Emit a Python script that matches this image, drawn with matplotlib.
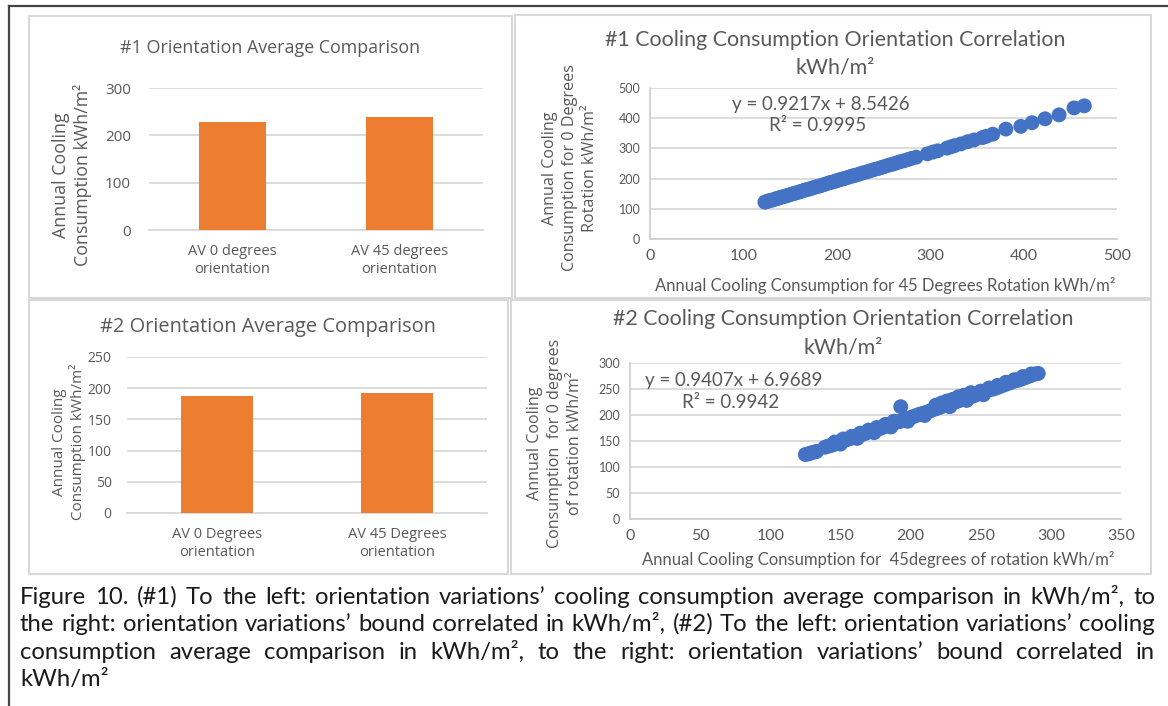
import matplotlib
matplotlib.use("Agg")
import matplotlib.pyplot as plt
from matplotlib.patches import Rectangle
from matplotlib.lines import Line2D
from matplotlib.transforms import IdentityTransform

# ---------------- data ----------------
bar1_categories = ["AV 0 degrees\norientation", "AV 45 degrees\norientation"]
bar1_values = [228, 239]
bar1_ticks = [0, 100, 200, 300]

bar2_categories = ["AV 0 Degrees\norientation", "AV 45 Degrees\norientation"]
bar2_values = [187.5, 192]
bar2_ticks = [0, 50, 100, 150, 200, 250]

sc1_x = [123, 125, 127, 129, 131, 134, 136, 138, 141, 143, 146, 148, 151, 153, 156,
         159, 161, 164, 167, 170, 172, 175, 178, 181, 184, 187, 190, 193, 196, 199,
         202, 205, 208, 211, 214, 217, 220, 224, 228, 232, 236, 240, 244, 248, 252,
         256, 260, 264, 268, 272, 276, 280, 285, 297, 303, 308, 318, 322, 326, 333,
         340, 347, 356, 360, 367, 381, 397, 409, 423, 438, 454, 465]
sc1_y = [122, 124, 126, 128, 129, 132, 134, 136, 139, 140, 143, 145, 148, 150, 152,
         155, 157, 160, 163, 165, 167, 170, 173, 175, 178, 181, 184, 187, 189, 192,
         195, 198, 200, 203, 206, 209, 211, 215, 219, 222, 226, 230, 233, 237, 241,
         245, 248, 252, 256, 259, 263, 267, 271, 282, 288, 292, 301, 305, 309, 315,
         322, 328, 336, 340, 347, 364, 373, 385, 398, 411, 434, 441]
sc1_ticks_x = [0, 100, 200, 300, 400, 500]
sc1_ticks_y = [0, 100, 200, 300, 400, 500]
sc1_eq = "y = 0.9217x + 8.5426"
sc1_r2 = "R² = 0.9995"

sc2_x = [125, 127, 128, 130, 132, 133,
         139, 141, 143, 145, 147, 149, 151, 153, 155, 157, 159, 161, 163, 165, 167,
         169, 171, 173, 175, 177, 179, 181, 183, 185, 187, 189, 191, 193, 195, 197,
         199, 201, 203, 205, 207, 209, 211, 213, 215, 217, 219, 221, 223, 225, 227,
         229, 231, 233, 235, 237, 239, 241, 243, 245, 247, 249, 251, 253, 255, 257,
         259, 261, 263, 265, 268, 271, 274, 277, 280, 283, 286, 289, 291,
         146, 152, 158, 164, 170, 176, 182, 188, 218, 222, 226, 230, 234, 238, 243,
         250, 256, 262, 268, 274, 280, 286,
         150, 162, 174, 186, 198, 210, 228, 240, 252, 193]
sc2_y = [124, 125, 126, 128, 129, 130,
         138, 140, 141, 143, 145, 147, 149, 151, 153, 155, 156, 158, 160, 162, 164,
         166, 168, 170, 172, 173, 175, 177, 179, 181, 183, 185, 187, 188, 190, 192,
         194, 196, 198, 200, 202, 203, 205, 207, 209, 211, 213, 215, 217, 219, 220,
         222, 224, 226, 228, 230, 232, 234, 235, 237, 239, 241, 243, 245, 247, 249,
         250, 252, 254, 256, 259, 262, 265, 267, 270, 273, 276, 279, 280,
         148, 154, 159, 165, 171, 176, 182, 188, 219, 223, 227, 230, 235, 238, 243,
         246, 252, 257, 263, 268, 274, 279,
         144, 155, 166, 177, 188, 199, 216, 228, 239, 216]
sc2_ticks_x = [0, 50, 100, 150, 200, 250, 300, 350]
sc2_ticks_y = [0, 50, 100, 150, 200, 250, 300]
sc2_eq = "y = 0.9407x + 6.9689"
sc2_r2 = "R² = 0.9942"

caption_lines = [
    "Figure 10. (#1) To the left: orientation variations’ cooling consumption average comparison in kWh/m², to",
    "the right: orientation variations’ bound correlated in kWh/m², (#2) To the left: orientation variations’ cooling",
    "consumption average comparison in kWh/m², to the right: orientation variations’ bound correlated in",
    "kWh/m²",
]

# ---------------- styles ----------------
W, H = 1168, 706
ORANGE = "#ED7D31"
BLUE = "#4472C4"
TXT = "#595959"
GRID = "#D9D9D9"
BAR_FONT = ["Open Sans", "DejaVu Sans"]
XL_FONT = ["Lato", "DejaVu Sans"]

fig = plt.figure(figsize=(W / 100, H / 100), dpi=100)
fig.patch.set_facecolor("white")


def fx(x):
    return x / W


def fy(y):
    return 1 - y / H


def add_ax(l, t, r, b):
    return fig.add_axes([fx(l), fy(b), (r - l) / W, (b - t) / H])


def ftext(x, y, s, **kw):
    kw.setdefault("ha", "center")
    kw.setdefault("va", "center")
    kw.setdefault("color", TXT)
    return fig.text(fx(x), fy(y), s, **kw)


# outer frame lines
fig.add_artist(Line2D([fx(9), fx(1168)], [fy(6), fy(6)], color="#444444", lw=1.6))
fig.add_artist(Line2D([fx(9), fx(9)], [fy(6), fy(706)], color="#444444", lw=1.6))

# panel boxes
for (l, t, r, b) in [(29, 16, 512, 298), (515, 15, 1151, 298),
                     (29, 300, 508, 574), (511, 300, 1151, 574)]:
    fig.add_artist(Rectangle((fx(l), fy(b)), (r - l) / W, (b - t) / H,
                             transform=fig.transFigure, fill=False,
                             edgecolor="#D9D9D9", lw=1.5))


def style_bar_ax(ax, ticks, fs_tick, fs_cat, pad_y, pad_x):
    ax.set_facecolor("none")
    for s in ["top", "right", "left"]:
        ax.spines[s].set_visible(False)
    ax.spines["bottom"].set_color(GRID)
    ax.spines["bottom"].set_linewidth(1.3)
    ax.set_yticks(ticks)
    ax.set_ylim(ticks[0], ticks[-1])
    ax.yaxis.grid(True, color=GRID, lw=1.3)
    ax.set_axisbelow(True)
    ax.tick_params(axis="both", length=0, colors=TXT)
    ax.tick_params(axis="y", labelsize=fs_tick, pad=pad_y)
    ax.tick_params(axis="x", labelsize=fs_cat, pad=pad_x)
    for lab in ax.get_yticklabels() + ax.get_xticklabels():
        lab.set_family(BAR_FONT)
    ax.set_xlim(-0.5, 1.5)


# ---- TL bar chart ----
ax1 = add_ax(149, 88, 483, 230)
ax1.bar(range(len(bar1_values)), bar1_values, width=0.4, color=ORANGE, zorder=3)
ax1.set_xticks(range(len(bar1_categories)))
ax1.set_xticklabels(bar1_categories, linespacing=1.25)
style_bar_ax(ax1, bar1_ticks, 11, 10.5, 13, 10)
ftext(270, 48, "#1 Orientation Average Comparison", fontsize=12.9, family=BAR_FONT)
ftext(72, 175, "Annual Cooling\nConsumption kWh/m²", fontsize=12.8, rotation=90,
      family=BAR_FONT, linespacing=1.2)

# ---- BL bar chart ----
ax2 = add_ax(127, 357, 487, 513)
ax2.bar(range(len(bar2_values)), bar2_values, width=0.4, color=ORANGE, zorder=3)
ax2.set_xticks(range(len(bar2_categories)))
ax2.set_xticklabels(bar2_categories, linespacing=1.25)
style_bar_ax(ax2, bar2_ticks, 10, 10.5, 11, 10)
ftext(268, 327, "#2 Orientation Average Comparison", fontsize=14.4, family=BAR_FONT)
ftext(69, 442, "Annual Cooling\nConsumption kWh/m²", fontsize=11, rotation=90,
      family=BAR_FONT, linespacing=1.2)


def style_sc_ax(ax, tx, ty):
    ax.set_facecolor("none")
    for s in ["top", "right"]:
        ax.spines[s].set_visible(False)
    for s in ["left", "bottom"]:
        ax.spines[s].set_color("#D0D0D0")
        ax.spines[s].set_linewidth(1.3)
    ax.set_xticks(tx)
    ax.set_yticks(ty)
    ax.set_xlim(tx[0], tx[-1])
    ax.set_ylim(ty[0], ty[-1])
    ax.yaxis.grid(True, color=GRID, lw=1.3)
    ax.set_axisbelow(True)
    ax.tick_params(axis="both", length=0, colors=TXT)
    ax.tick_params(axis="x", labelsize=11.5, pad=7)
    ax.tick_params(axis="y", labelsize=9, pad=7)
    for lab in ax.get_yticklabels() + ax.get_xticklabels():
        lab.set_family(XL_FONT)


# ---- TR scatter ----
ax3 = add_ax(650, 88, 1117, 239)
ax3.scatter(sc1_x, sc1_y, s=115, color=BLUE, edgecolors="none", zorder=3, clip_on=False)
style_sc_ax(ax3, sc1_ticks_x, sc1_ticks_y)
ax3.text(183, 447, sc1_eq, ha="center", va="center", fontsize=13.5, color=TXT, family=XL_FONT)
ax3.text(180, 377, sc1_r2, ha="center", va="center", fontsize=13.5, color=TXT, family=XL_FONT)
ftext(835, 40, "#1 Cooling Consumption Orientation Correlation", fontsize=15.4, family=XL_FONT)
ftext(835, 68, "kWh/m²", fontsize=15.4, family=XL_FONT)
ftext(570, 168, "Annual Cooling\nConsumption for 0 Degrees\nRotation kWh/m²", fontsize=11.6,
      rotation=90, family=BAR_FONT, linespacing=1.35)
ftext(885, 285, "Annual Cooling Consumption for 45 Degrees Rotation kWh/m²", fontsize=12,
      family=XL_FONT)

# ---- BR scatter ----
ax4 = add_ax(630, 363, 1121, 519)
ax4.scatter(sc2_x, sc2_y, s=115, color=BLUE, edgecolors="none", zorder=3, clip_on=False)
style_sc_ax(ax4, sc2_ticks_x, sc2_ticks_y)
ax4.text(74, 267, sc2_eq, ha="center", va="center", fontsize=13.5, color=TXT, family=XL_FONT)
ax4.text(72, 225, sc2_r2, ha="center", va="center", fontsize=13.5, color=TXT, family=XL_FONT)
ftext(843, 319, "#2 Cooling Consumption Orientation Correlation", fontsize=15.4, family=XL_FONT)
ftext(843, 347, "kWh/m²", fontsize=15.4, family=XL_FONT)
ftext(555, 443, "Annual Cooling\nConsumption  for 0 degrees\nof rotation kWh/m²", fontsize=11.6,
      rotation=90, family=BAR_FONT, linespacing=1.35)
ftext(878, 560, "Annual Cooling Consumption for  45degrees of rotation kWh/m²", fontsize=12,
      family=XL_FONT)

# ---------------- justified caption ----------------
renderer = fig.canvas.get_renderer()
CAP_FONT = XL_FONT
X0, X1 = 20, 1155
baselines = [604, 631, 659, 686]


def measure(s, fs):
    t = fig.text(0, 0, s, fontsize=fs, family=CAP_FONT, transform=IdentityTransform())
    w = t.get_window_extent(renderer).width
    t.remove()
    return w


# choose font size so the widest line fills the text width at natural spacing
fs = 13.5
maxw = max(measure(l, fs) for l in caption_lines[:3])
fs = fs * (X1 - X0) / maxw * 0.995

for i, line in enumerate(caption_lines):
    ybase = H - baselines[i]
    words = line.split(" ")
    if i < 3:
        widths = [measure(w, fs) for w in words]
        gap = ((X1 - X0) - sum(widths)) / (len(words) - 1)
        x = X0
        for w, wd in zip(words, widths):
            fig.text(x, ybase, w, fontsize=fs, family=CAP_FONT, color="#1a1a1a",
                     transform=IdentityTransform(), ha="left", va="baseline")
            x += wd + gap
    else:
        fig.text(X0, ybase, line, fontsize=fs, family=CAP_FONT, color="#1a1a1a",
                 transform=IdentityTransform(), ha="left", va="baseline")

fig.savefig("out.png", dpi=100, facecolor="white")
